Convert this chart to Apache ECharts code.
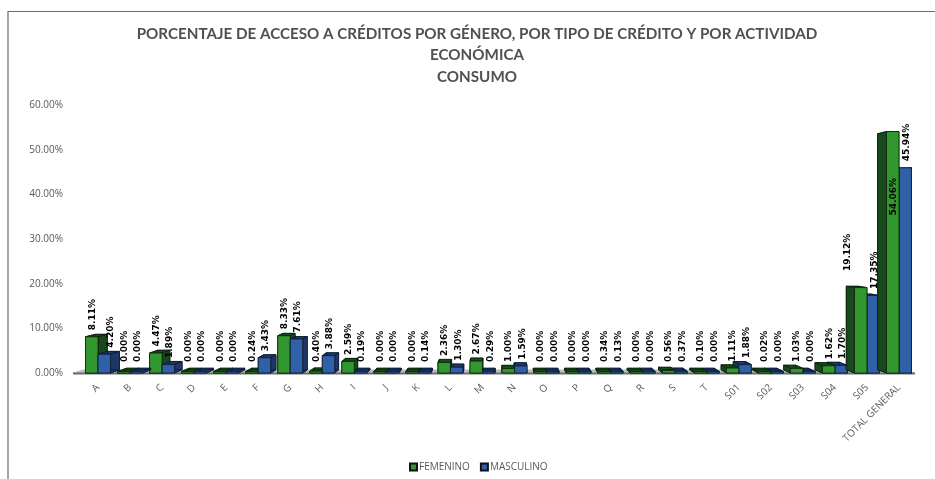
<!DOCTYPE html>
<html><head><meta charset="utf-8">
<script src="https://cdn.jsdelivr.net/npm/echarts@6/dist/echarts.min.js"></script>
<style>html,body{margin:0;padding:0;background:#fff}#c{width:935px;height:479px}</style>
</head><body><div id="c"></div>
<script>
const categories = ['A','B','C','D','E','F','G','H','I','J','K','L','M','N','O','P','Q','R','S','T','S01','S02','S03','S04','S05','TOTAL GENERAL'];
const femenino = [8.11,0.00,4.47,0.00,0.00,0.24,8.33,0.40,2.59,0.00,0.00,2.36,2.67,1.00,0.00,0.00,0.34,0.00,0.56,0.10,1.11,0.02,1.03,1.62,19.12,54.06];
const masculino = [4.20,0.00,1.89,0.00,0.00,3.43,7.61,3.88,0.19,0.00,0.14,1.30,0.29,1.59,0.00,0.00,0.13,0.00,0.37,0.00,1.88,0.00,0.00,1.70,17.35,45.94];
const yTicks = [0,10,20,30,40,50,60];
const titleLines = ['PORCENTAJE DE ACCESO A CRÉDITOS POR GÉNERO, POR TIPO DE CRÉDITO Y POR ACTIVIDAD','ECONÓMICA','CONSUMO'];

const VPX = 500, VPY = 230, K = 0.023;
const STYLE = {
  FEMENINO: {front:'#31982f', side:'#17491a', stroke:'#0f1f0f'},
  MASCULINO:{front:'#3060a6', side:'#1d3866', stroke:'#0f1a2e'}
};
// label placement tweaks (style only)
const labelTweak = {'A|MASCULINO':[5,0,false], 'S05|FEMENINO':[-14,-10,false], 'TOTAL GENERAL|FEMENINO':[0,0,true]};

function back(p){ return [p[0] + (VPX - p[0]) * K, p[1] + (VPY - p[1]) * K]; }

function makeRender(name, side){
  return function(params, api){
    const idx = api.value(0), val = api.value(1);
    const c = api.coord([idx, val]);
    const b = api.coord([idx, 0]);
    const bw = api.size([1,0])[0];
    const w = Math.min(12.5, bw * 0.39);
    const x0 = side < 0 ? c[0] - w : c[0];
    const x1 = x0 + w;
    const yB = b[1];
    const yT = Math.min(c[1], yB - 1.5);
    const st = STYLE[name];
    const rightOfVp = c[0] > VPX;
    let z2 = (side < 0) ? (rightOfVp ? 20 : 10) : (rightOfVp ? 10 : 20);
    const f = [[x0,yT],[x1,yT],[x1,yB],[x0,yB]];
    const k = f.map(back);
    const children = [];
    const dk = {fill: st.side, stroke: st.stroke, lineWidth: 0.8};
    children.push({type:'polygon', z2:z2, shape:{points:k}, style:dk});
    for (let i=0;i<4;i++){
      const j=(i+1)%4;
      children.push({type:'polygon', z2:z2, shape:{points:[f[i],f[j],k[j],k[i]]}, style:dk});
    }
    children.push({type:'rect', z2:z2+1, shape:{x:x0,y:yT,width:w,height:yB-yT},
      style:{fill: st.front, stroke: st.stroke, lineWidth: 0.8}});
    // label
    const key = categories[idx] + '|' + name;
    const tw = labelTweak[key];
    const txt = val.toFixed(2) + '%';
    let lx = (x0 + x1) / 2 + (side > 0 ? 1.5 : 0.5), ly = Math.min(c[1] - 6.5, yB - 11);
    if (tw){
      if (tw[2]) { ly = c[1] + 84; }
      else { lx += tw[0]; ly += tw[1]; }
    }
    children.push({type:'text', z2:50, x:lx, y:ly, rotation:Math.PI/2,
      style:{text: txt, font:'bold 9px "DejaVu Sans"', fill:'#000', align:'left', verticalAlign:'middle'}});
    if (idx === 0 && side < 0){
      // floor band
      const cs = params.coordSys;
      const fl = [[cs.x - 9, yB],[cs.x + cs.width, yB]];
      const fk = fl.map(back);
      children.push({type:'polygon', z2:1, shape:{points:[fl[0],fl[1],fk[1],fk[0]]},
        style:{fill:'#bdbdbd', stroke:'#bdbdbd', lineWidth:0.5}});
      children.push({type:'line', z2:2, shape:{x1:cs.x-9,y1:yB+0.5,x2:cs.x+cs.width,y2:yB+0.5},
        style:{stroke:'#6e6e6e', lineWidth:2}});
    }
    return {type:'group', children};
  };
}

const chart = echarts.init(document.getElementById('c'), null, {renderer:'canvas'});
chart.setOption({
  animation:false,
  backgroundColor:'#fff',
  graphic:[
    {type:'polyline', shape:{points:[[8,479],[8,11.5],[935,11.5]]}, style:{stroke:'#6b6b6b', lineWidth:1.2, fill:null}},
    {type:'text', x:477, y:23, style:{text:titleLines.join('\n'), font:'bold 15.2px Lato', fill:'#505050', align:'center', verticalAlign:'top', lineHeight:21.5}}
  ],
  legend:{
    data:['FEMENINO','MASCULINO'], left:404, top:457, itemWidth:7, itemHeight:7, itemGap:10,
    icon:'rect', textStyle:{fontSize:10, color:'#595959', fontFamily:'"Open Sans"', padding:[0,0,0,-3]}
  },
  grid:{left:82, right:20, top:105, bottom:106},
  xAxis:{type:'category', data:categories, axisTick:{show:false}, axisLine:{show:false},
    axisLabel:{rotate:45, interval:0, color:'#595959', fontSize:10, fontFamily:'"Open Sans"', margin:13}},
  yAxis:{type:'value', min:0, max:60, interval:10, splitLine:{show:false}, axisLine:{show:false}, axisTick:{show:false},
    axisLabel:{formatter:v=>v.toFixed(2)+'%', color:'#595959', fontSize:10, fontFamily:'"Open Sans"', margin:19}},
  series:[
    {name:'FEMENINO', type:'custom', renderItem:makeRender('FEMENINO',-1),
      itemStyle:{color:STYLE.FEMENINO.front, borderColor:'#111', borderWidth:1},
      data:femenino.map((v,i)=>[i,v]), encode:{x:0,y:1}, clip:false},
    {name:'MASCULINO', type:'custom', renderItem:makeRender('MASCULINO',1),
      itemStyle:{color:STYLE.MASCULINO.front, borderColor:'#111', borderWidth:1},
      data:masculino.map((v,i)=>[i,v]), encode:{x:0,y:1}, clip:false}
  ]
});
</script></body></html>
